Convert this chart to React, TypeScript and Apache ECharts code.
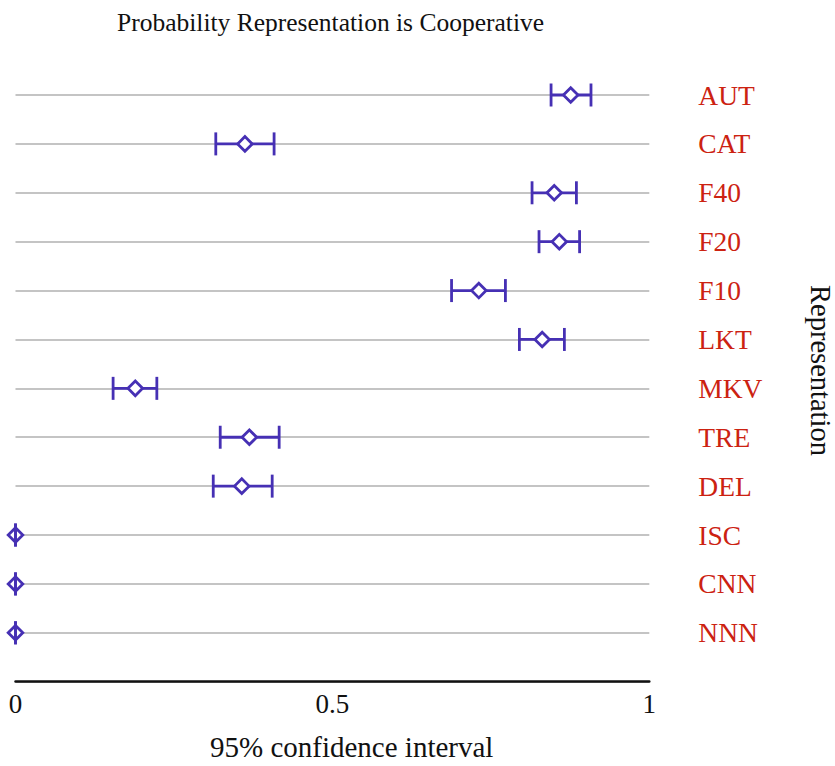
import React, { useEffect, useRef } from "react";
import * as echarts from "echarts";

const categories = ["AUT", "CAT", "F40", "F20", "F10", "LKT", "MKV", "TRE", "DEL", "ISC", "CNN", "NNN"];
const means = [0.876, 0.362, 0.85, 0.858, 0.731, 0.831, 0.189, 0.369, 0.357, 0, 0, 0];
const lows = [0.845, 0.316, 0.815, 0.826, 0.688, 0.795, 0.154, 0.323, 0.312, 0, 0, 0];
const highs = [0.908, 0.408, 0.885, 0.89, 0.773, 0.866, 0.223, 0.416, 0.405, 0, 0, 0];
const xTicks = [0, 0.5, 1];

const titleText = "Probability Representation is Cooperative";
const xName = "95% confidence interval";
const yName = "Representation";

const FONT = "'Liberation Serif', 'DejaVu Serif', serif";
const BLUE = "#4630b4";
const RED = "#cc2211";

export default function App() {
  const ref = useRef<HTMLDivElement>(null);
  useEffect(() => {
    if (!ref.current) return;
    const chart = echarts.init(ref.current, null, { renderer: "svg" });
    const data = categories.map((c, i) => [lows[i], highs[i], means[i], i]);
    chart.setOption({
      animation: false,
      backgroundColor: "#ffffff",
      grid: { left: 15.5, right: 185.7, top: 95, bottom: 84.3, containLabel: false },
      xAxis: {
        type: "value",
        min: xTicks[0],
        max: xTicks[xTicks.length - 1],
        interval: xTicks[1] - xTicks[0],
        axisLine: { show: true, lineStyle: { color: "#111", width: 2.5 } },
        axisTick: { show: false },
        splitLine: { show: false },
        axisLabel: {
          color: "#111",
          fontFamily: FONT,
          fontSize: 27,
          margin: 9,
          formatter: (v: number) => String(v),
        },
      },
      yAxis: {
        type: "category",
        position: "right",
        inverse: true,
        boundaryGap: false,
        data: [...categories, ""],
        axisLine: { show: false },
        axisTick: { show: false },
        splitLine: { show: true, lineStyle: { color: "#c4c4c4", width: 2 } },
        axisLabel: { color: RED, fontFamily: FONT, fontSize: 27.5, margin: 49 },
      },
      title: {
        text: titleText,
        left: 112,
        top: 4,
        textStyle: { fontFamily: FONT, fontSize: 25.5, fontWeight: "normal", color: "#111" },
      },
      graphic: [
        {
          type: "text",
          left: 210,
          top: 732,
          style: { text: xName, fontFamily: FONT, fontSize: 29, fill: "#111" },
        },
        {
          type: "text",
          x: 806,
          y: 285,
          rotation: -Math.PI / 2,
          style: {
            text: yName,
            fontFamily: FONT,
            fontSize: 28.5,
            fill: "#111",
            textAlign: "left",
            textVerticalAlign: "bottom",
          },
        },
      ],
      series: [
        {
          type: "custom",
          data,
          encode: { x: [0, 1, 2], y: 3 },
          renderItem: (params: any, api: any) => {
            const cat = api.value(3);
            const lo = api.coord([api.value(0), cat]);
            const hi = api.coord([api.value(1), cat]);
            const m = api.coord([api.value(2), cat]);
            const capH = 11.5;
            const d = 7.3;
            const ls = { stroke: BLUE, lineWidth: 2.8 };
            return {
              type: "group",
              children: [
                { type: "line", shape: { x1: lo[0], y1: lo[1], x2: hi[0], y2: hi[1] }, style: ls },
                {
                  type: "polygon",
                  shape: {
                    points: [
                      [m[0] - d, m[1]],
                      [m[0], m[1] - d],
                      [m[0] + d, m[1]],
                      [m[0], m[1] + d],
                    ],
                  },
                  style: { fill: "#ffffff", stroke: BLUE, lineWidth: 2.8 },
                },
                { type: "line", shape: { x1: lo[0], y1: lo[1] - capH, x2: lo[0], y2: lo[1] + capH }, style: ls },
                { type: "line", shape: { x1: hi[0], y1: hi[1] - capH, x2: hi[0], y2: hi[1] + capH }, style: ls },
              ],
            };
          },
        },
      ],
    });
    return () => chart.dispose();
  }, []);
  return (
    <div
      ref={ref}
      style={{ position: "fixed", left: 0, top: 0, width: 835, height: 766, background: "#fff" }}
    />
  );
}
